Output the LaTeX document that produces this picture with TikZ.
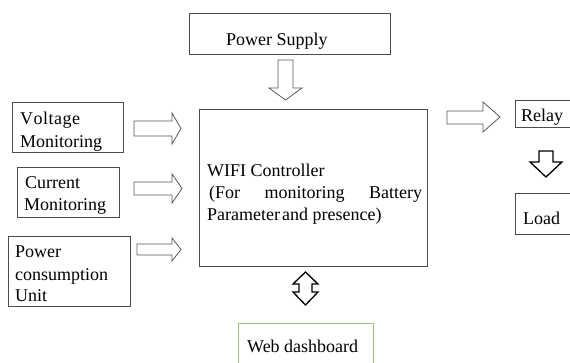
\documentclass[tikz,border=0pt]{standalone}
\usepackage{fontspec}
\setmainfont{Liberation Serif}
\definecolor{webgreen}{RGB}{150,200,120}
\tikzset{
  box/.style={draw=black!70, line width=0.8pt, fill=none, inner sep=0pt, anchor=north west},
  webbox/.style={draw=webgreen, line width=0.9pt, inner sep=0pt, anchor=north west},
  txt/.style={inner sep=0pt, anchor=base west, font=\fontsize{18}{22.5}\selectfont},
  hollow/.style={draw=black!65, line width=0.8pt, line join=miter},
  bold/.style={draw=black, line width=1.3pt, line join=miter},
}
\begin{document}
\begin{tikzpicture}[x=1pt,y=-1pt]
\clip (0,0) rectangle (570,362);
\useasboundingbox (0,0) rectangle (570,362);

% boxes
\node[box, minimum width=201pt, minimum height=41pt] (psbox) at (189,13) {};
\node[box, minimum width=228pt, minimum height=157pt] (wifibox) at (199,109) {};
\node[box, minimum width=111pt, minimum height=50pt] (vbox) at (12,102) {};
\node[box, minimum width=102pt, minimum height=50pt] (cbox) at (17,167) {};
\node[box, minimum width=122pt, minimum height=70pt] (pbox) at (8,236) {};
\node[box, minimum width=70pt, minimum height=27pt] (rbox) at (515,100) {};
\node[box, minimum width=70pt, minimum height=41pt] (lbox) at (515,193) {};
\node[webbox, minimum width=135pt, minimum height=60pt] (wbox) at (238,323) {};

% labels
\node[txt] (pstxt) at (226,45) {Power Supply};
\node[txt] (vt1) at (20,124) {V\kern0.5pt o\kern0.5pt l\kern0.5pt t\kern0.5pt a\kern0.5pt g\kern0.5pt e};
\node[txt] (vt2) at (20,147) {Monitoring};
\node[txt] (ct1) at (25,188) {Current};
\node[txt] (ct2) at (24,210) {Monitoring};
\node[txt] (pt1) at (15,257) {Power};
\node[txt] (pt2) at (15,280) {consumption};
\node[txt] (pt3) at (15,301) {Unit};
\node[txt] (w1) at (207,176) {WIFI Controller};
\node[txt] (w2) at (209,198) {\makebox[213pt][s]{(For\hfill monitoring\hfill Battery}};
\node[txt] (w3) at (207,220) {Parameter\hspace{2pt}and presence)};
\node[txt] (rt) at (521,121) {Relay};
\node[txt] (lt) at (523,224) {Load};
\node[txt] (wt) at (247,352) {Web dashboard};

% hollow block arrows
\draw[hollow] (278,60) -- (293,60) -- (293,88) -- (302,88) -- (285.5,100) -- (269,88) -- (278,88) -- cycle;
\draw[hollow] (134,121) -- (172,121) -- (172,113) -- (181,128.5) -- (172,144) -- (172,136) -- (134,136) -- cycle;
\draw[hollow] (134,182) -- (172,182) -- (172,174) -- (182,188.5) -- (172,203) -- (172,195) -- (134,195) -- cycle;
\draw[hollow] (137,244) -- (172,244) -- (172,238) -- (181,249.5) -- (172,261) -- (172,255) -- (137,255) -- cycle;
\draw[hollow] (447,111) -- (483,111) -- (483,102) -- (500,117) -- (483,132) -- (483,124) -- (447,124) -- cycle;

% black block arrows
\draw[bold] (539,151) -- (553,151) -- (553,162) -- (562,162) -- (546,177) -- (530,162) -- (539,162) -- cycle;
\draw[bold] (305.5,272) -- (318,284) -- (312,284) -- (312,292) -- (318,292) -- (305.5,305)
  -- (293,292) -- (299,292) -- (299,284) -- (293,284) -- cycle;
\end{tikzpicture}
\end{document}
